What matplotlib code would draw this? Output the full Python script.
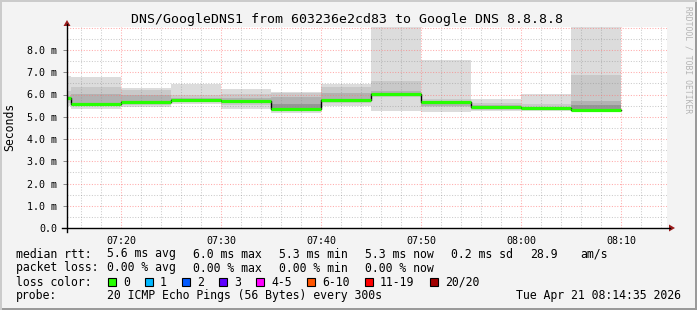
import matplotlib
matplotlib.use("agg")
import matplotlib.pyplot as plt
from matplotlib.patches import Rectangle, Polygon
from matplotlib.lines import Line2D

W, H = 697, 310
MONO = "DejaVu Sans Mono"

# 5 minute steps, values in ms
bin_starts = ["07:10", "07:15", "07:20", "07:25", "07:30", "07:35",
              "07:40", "07:45", "07:50", "07:55", "08:00", "08:05"]
median = [5.85, 5.59, 5.68, 5.74, 5.72, 5.36, 5.75, 6.01, 5.66, 5.44, 5.39, 5.32]

# smoke bands (outer = lightest)
outer_lo = [5.50, 5.36, 5.45, 5.58, 5.36, 5.16, 5.48, 5.27, 5.20, 5.27, 5.28, 5.24]
outer_hi = [6.85, 6.80, 6.31, 6.49, 6.25, 6.12, 6.47, 9.50, 7.55, 5.82, 6.01, 9.50]
mid_lo = [5.60, 5.48, 5.52, 5.65, 5.55, 5.28, 5.60, 5.88, 5.45, 5.32, 5.33, 5.28]
mid_hi = [6.15, 6.32, 6.20, 6.00, 6.02, 6.05, 6.35, 6.61, 5.80, 5.60, 5.56, 6.88]
inner_lo = [5.75, 5.52, 5.58, 5.68, 5.65, 5.56, 5.68, 5.95, 5.50, 5.35, 5.35, 5.30]
inner_hi = [5.95, 6.02, 5.98, 5.85, 5.85, 5.90, 6.08, 6.17, 5.72, 5.52, 5.46, 5.72]
core_lo = [5.80, 5.56, 5.62, 5.70, 5.68, 5.40, 5.72, 5.98, 5.58, 5.40, 5.37, 5.31]
core_hi = [5.90, 5.62, 5.72, 5.78, 5.76, 5.56, 5.80, 6.05, 5.64, 5.46, 5.41, 5.53]

x_ticks = ["07:20", "07:30", "07:40", "07:50", "08:00", "08:10"]
y_ticks = [0, 1, 2, 3, 4, 5, 6, 7, 8]
start_time = "07:14:35"

stats_rtt = ["5.6 ms avg", "6.0 ms max", "5.3 ms min", "5.3 ms now", "0.2 ms sd", "28.9", "am/s"]
stats_loss = ["0.00 % avg", "0.00 % max", "0.00 % min", "0.00 % now"]
loss_labels = ["0", "1", "2", "3", "4-5", "6-10", "11-19", "20/20"]
loss_colors = ["#26ff00", "#00b8ff", "#0059ff", "#5e00ff", "#ff00ff", "#ff5500", "#ff0000", "#a10000"]


def to_min(s):
    parts = [int(p) for p in s.split(":")]
    m = parts[0] * 60 + parts[1] - 7 * 60
    if len(parts) > 2:
        m += parts[2] / 60
    return m


def fx(x):
    return x / W


def fy(y):
    return 1 - y / H


starts = [to_min(s) for s in bin_starts]
t0 = to_min(start_time)

fig = plt.figure(figsize=(W / 100, H / 100), dpi=100)
fig.set_facecolor("#f3f3f3")

# rrdtool style shading around the image
fig.patches.append(Rectangle((0, 0), 1, 2 / H, transform=fig.transFigure, color="#9a9a9a", lw=0))
fig.patches.append(Rectangle((1 - 2 / W, 0), 2 / W, 1, transform=fig.transFigure, color="#9a9a9a", lw=0))
fig.patches.append(Rectangle((0, 1 - 2 / H), 1, 2 / H, transform=fig.transFigure, color="#cbcbcb", lw=0))
fig.patches.append(Rectangle((0, 0), 2 / W, 1, transform=fig.transFigure, color="#cbcbcb", lw=0))

ax = fig.add_axes((fx(67), fy(228), 600 / W, 201 / H))
ax.set_xlim(t0, t0 + 60)
ax.set_ylim(0, 201 / 22.25)
for s in ax.spines.values():
    s.set_visible(False)

# smoke
layers = [(outer_lo, outer_hi, "#dcdcdc"), (mid_lo, mid_hi, "#c9c9c9"),
          (inner_lo, inner_hi, "#b2b2b2"), (core_lo, core_hi, "#969696")]
for lo, hi, c in layers:
    ax.bar(starts, [h - l for l, h in zip(lo, hi)], bottom=lo, width=5,
           align="edge", color=c, lw=0, zorder=1)

# grid
dots = (0, (1.0, 1.6))
for m in range(0, 80, 2):
    if m % 10 == 0:
        ax.axvline(m, color=(1, 0.45, 0.45, 0.6), lw=0.75, ls=dots, zorder=2)
    else:
        ax.axvline(m, color=(0.55, 0.55, 0.55, 0.45), lw=0.75, ls=dots, zorder=2)
for i in range(1, 19):
    v = i * 0.5
    if i % 2 == 0:
        ax.axhline(v, color=(1, 0.45, 0.45, 0.6), lw=0.75, ls=dots, zorder=2)
    else:
        ax.axhline(v, color=(0.55, 0.55, 0.55, 0.45), lw=0.75, ls=dots, zorder=2)

# median line
ax.step(starts + [starts[-1] + 5], median + [median[-1]], where="post",
        color="black", lw=1.0, zorder=3)
ax.hlines(median, starts, [s + 5 for s in starts], color=loss_colors[0], lw=2.3, zorder=4)

# ticks
ax.set_xticks([to_min(t) for t in x_ticks])
ax.set_xticklabels(x_ticks, family=MONO, fontsize=7.2)
ax.set_yticks(y_ticks)
ax.set_yticklabels(["0.0"] + [f"{v:.1f} m" for v in y_ticks[1:]], family=MONO, fontsize=7.2)
ax.tick_params(axis="both", length=3, width=0.6, color="#777777", pad=4)
ax.tick_params(axis="x", length=0, pad=6)

# axes with arrows
fig.lines.append(Line2D([fx(62), fx(670)], [fy(228), fy(228)], transform=fig.transFigure, color="black", lw=1))
fig.lines.append(Line2D([fx(67), fx(67)], [fy(232), fy(24)], transform=fig.transFigure, color="black", lw=1))
arrow_c = "#9b1c1c"
fig.patches.append(Polygon([(fx(669), fy(224.5)), (fx(675), fy(228)), (fx(669), fy(231.5))],
                           closed=True, transform=fig.transFigure, color=arrow_c, lw=0))
fig.patches.append(Polygon([(fx(63.5), fy(26)), (fx(67), fy(20)), (fx(70.5), fy(26))],
                           closed=True, transform=fig.transFigure, color=arrow_c, lw=0))

# titles
fig.text(fx(347), fy(19), "DNS/GoogleDNS1 from 603236e2cd83 to Google DNS 8.8.8.8",
         family=MONO, fontsize=9.5, ha="center", va="center")
fig.text(fx(10), fy(127), "Seconds", family=MONO, fontsize=8.3, rotation=90, ha="center", va="center")
fig.text(fx(688), fy(6), "RRDTOOL / TOBI OETIKER", family=MONO, fontsize=5.8,
         rotation=270, ha="center", va="top", color="#b4b4b4")

# legend
rows = [254, 268, 282, 296]
fs = 8.3
fig.text(fx(16), fy(rows[0]), "median rtt:", family=MONO, fontsize=fs, va="center")
for x, s in zip([107, 193, 279, 365, 451, 530, 580], stats_rtt):
    fig.text(fx(x), fy(rows[0]), s, family=MONO, fontsize=fs, va="center")
fig.text(fx(16), fy(rows[1]), "packet loss:", family=MONO, fontsize=fs, va="center")
for x, s in zip([107, 193, 279, 365], stats_loss):
    fig.text(fx(x), fy(rows[1]), s, family=MONO, fontsize=fs, va="center")
fig.text(fx(16), fy(rows[2]), "loss color:", family=MONO, fontsize=fs, va="center")
box_x = [108, 145, 182, 219, 256, 307, 365, 430]
for x, lab, c in zip(box_x, loss_labels, loss_colors):
    fig.patches.append(Rectangle((fx(x), fy(rows[2] + 4)), 8 / W, 8 / H,
                                 transform=fig.transFigure, facecolor=c, edgecolor="black", lw=0.8))
    fig.text(fx(x + 15), fy(rows[2]), lab, family=MONO, fontsize=fs, va="center")
fig.text(fx(16), fy(rows[3]), "probe:", family=MONO, fontsize=fs, va="center")
fig.text(fx(107), fy(rows[3]), "20 ICMP Echo Pings (56 Bytes) every 300s",
         family=MONO, fontsize=fs, va="center")
fig.text(fx(681), fy(rows[3]), "Tue Apr 21 08:14:35 2026", family=MONO, fontsize=fs,
         va="center", ha="right")

fig.savefig("out.png", dpi=100, facecolor=fig.get_facecolor())
